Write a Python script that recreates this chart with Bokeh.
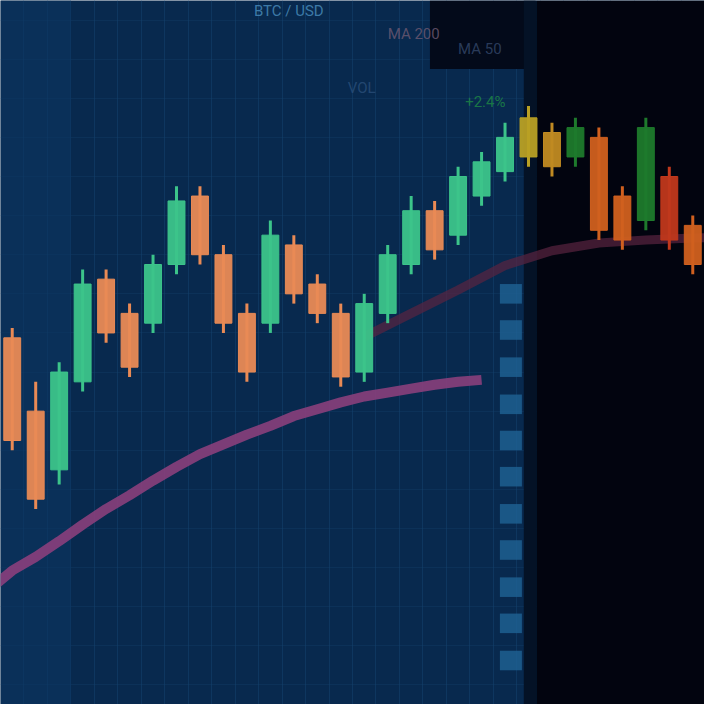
from bokeh.plotting import figure
from bokeh.models import Range1d, ColumnDataSource, FixedTicker
from bokeh.core.properties import value
from bokeh.embed import file_html
from bokeh.resources import INLINE

# ---- data ----
idx    = list(range(30))
opens  = [375, 300, 240, 330, 435, 400, 390, 450, 520, 460, 400, 390, 470, 430, 400, 340, 400, 450, 505, 480, 520, 545, 600, 585, 560, 580, 520, 495, 540, 490]
closes = [270, 210, 340, 430, 380, 345, 450, 515, 460, 390, 340, 480, 420, 400, 335, 410, 460, 505, 465, 540, 555, 580, 560, 550, 590, 485, 475, 590, 475, 450]
highs  = [385, 330, 350, 445, 445, 410, 460, 530, 530, 470, 410, 495, 480, 440, 410, 420, 470, 520, 515, 550, 565, 595, 612, 595, 600, 590, 530, 600, 550, 500]
lows   = [260, 200, 225, 320, 370, 335, 380, 440, 450, 380, 330, 380, 410, 390, 325, 330, 390, 440, 455, 470, 510, 535, 550, 540, 550, 475, 465, 485, 465, 440]

ma_fast_x = [-1, 0, 1, 2, 3, 4, 5, 6, 7, 8, 9, 10, 11, 12, 13, 14, 15, 16, 17, 18, 19, 20]
ma_fast   = [117, 137, 151, 167, 184, 200, 214, 229, 243, 256, 266, 276, 285, 295, 302, 309, 315, 319, 323, 327, 330, 332]
ma_slow_x = [15, 17, 19, 21, 23, 25, 27, 29, 30]
ma_slow   = [376, 400, 424, 449, 464, 472, 475, 477, 478]

scale_ticks = [420, 383, 345, 307, 270, 233, 195, 158, 120, 83, 45]

labels   = ["BTC / USD", "MA 200", "MA 50", "VOL", "+2.4%"]
label_x  = [10.3, 16.0, 19.0, 14.3, 19.3]
label_y  = [718, 695, 680, 640, 625]
label_c  = ["#4a8fbf", "#6f5a72", "#34486a", "#2a4f7a", "#1f8a45"]

# ---- figure ----
p = figure(width=704, height=704, output_backend="svg", toolbar_location=None,
           x_range=Range1d(-0.5, 29.5), y_range=Range1d(0, 720),
           min_border=0, background_fill_color="#08294e", border_fill_color="#08294e",
           outline_line_color=None)
p.axis.visible = False
p.xgrid.grid_line_color = "#14416e"
p.xgrid.grid_line_alpha = 0.55
p.ygrid.grid_line_color = "#14416e"
p.ygrid.grid_line_alpha = 0.35
p.xaxis.ticker = FixedTicker(ticks=[i + 0.5 for i in range(-1, 30)])
p.yaxis.ticker = FixedTicker(ticks=list(range(20, 720, 40)))

# background shading: darker toward the right and at the top right
p.quad(left=[-0.5], right=[2.5], bottom=[0], top=[720], color="#0b3560", line_color=None, alpha=0.6)
p.quad(left=[17.8], right=[22.3], bottom=[650], top=[720], color="#030a1a", line_color=None)
p.quad(left=[21.8], right=[22.35], bottom=[0], top=[720], color="#041226", line_color=None)
p.quad(left=[22.35], right=[30], bottom=[0], top=[720], color="#02040f", line_color=None)

# price-scale column
p.segment(x0=[21.25] * len(scale_ticks), y0=[t + 10 for t in scale_ticks],
          x1=[21.25] * len(scale_ticks), y1=[t - 10 for t in scale_ticks],
          line_color="#1f6395", line_width=22, line_alpha=0.8)

# moving averages
p.line(ma_slow_x, ma_slow, line_color="#5a2440", line_width=9, line_alpha=0.7)
p.line(ma_fast_x, ma_fast, line_color="#8a3f7c", line_width=10, line_alpha=0.9)

# candles
left_up, left_dn = "#3cc48a", "#e98a55"
right_up, right_dn = "#1e7a2c", "#d0601f"
cols = []
for i, (o, c) in enumerate(zip(opens, closes)):
    up = c > o
    if i < 22:
        cols.append(left_up if up else left_dn)
    else:
        cols.append(right_up if up else right_dn)
cols[22] = "#b8a024"
cols[23] = "#c08a22"
cols[28] = "#c0381c"

src = ColumnDataSource(dict(x=idx, o=opens, c=closes, h=highs, l=lows,
                            top=[max(a, b) for a, b in zip(opens, closes)],
                            bot=[min(a, b) for a, b in zip(opens, closes)], col=cols))
p.segment(x0="x", y0="h", x1="x", y1="l", line_color="col", line_width=3, source=src)
p.vbar(x="x", width=0.72, top="top", bottom="bot", fill_color="col", line_color="col",
       fill_alpha=0.95, source=src)

# faint header texts
p.text(x=label_x, y=label_y, text=labels, text_color=label_c, text_font=value("Roboto"),
       text_font_size="15px", text_baseline="top", text_alpha=0.8)

open("out.html", "w").write(file_html(p, INLINE))
